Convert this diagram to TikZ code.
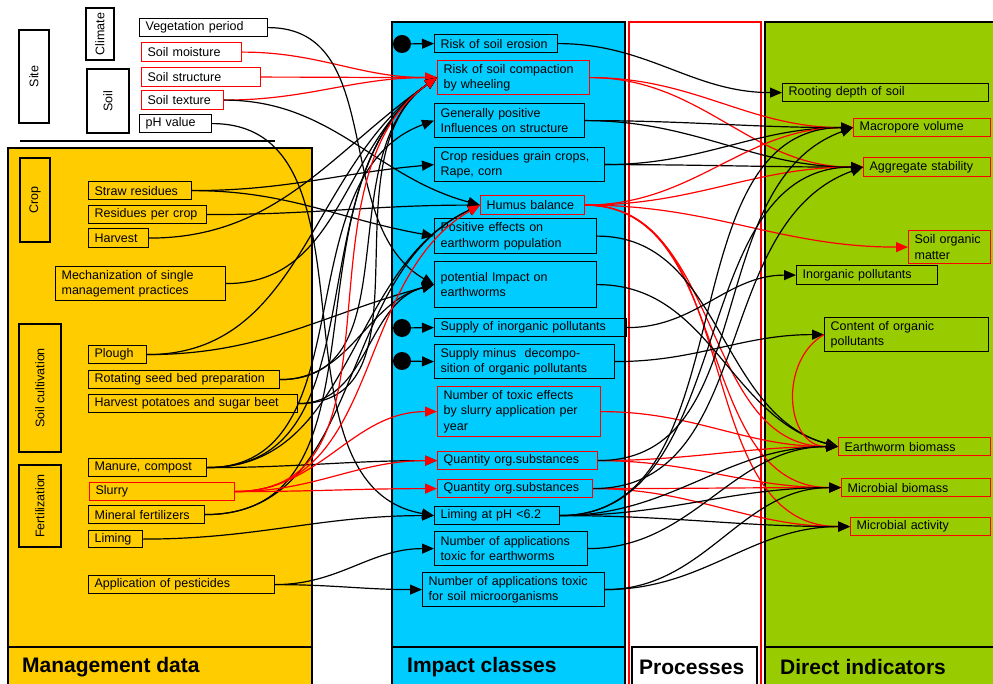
\documentclass[tikz,border=0pt]{standalone}
\usepackage{fontspec}
\setmainfont{Liberation Sans}
\usetikzlibrary{arrows.meta}
\definecolor{mgmtyellow}{RGB}{255,204,0}
\definecolor{impactblue}{RGB}{0,204,255}
\definecolor{indgreen}{RGB}{153,204,0}
\newcommand{\boxfont}{\fontsize{12.5}{15.5}\selectfont}
\newcommand{\titlefont}{\fontsize{21}{24}\selectfont\bfseries}

\begin{document}
\begin{tikzpicture}[x=1pt, y=1pt,
    box/.style={draw, line width=1.2pt, anchor=north west, align=left,
        inner xsep=6pt, inner ysep=0pt, font=\boxfont},
    redbox/.style={box, draw=red},
    catbox/.style={draw, line width=1.2pt, rotate=90, inner sep=0pt, font=\boxfont},
    blackdot/.style={circle, fill=black, inner sep=0pt, minimum size=18pt},
    panel/.style={draw, line width=1.2pt},
    paneltitle/.style={anchor=west, inner sep=0pt, font=\titlefont},
    link/.style={-{Triangle[length=12pt,width=10pt]}, line width=1.2pt},
    redlink/.style={link, draw=red}
    ]
    \useasboundingbox (0,0) rectangle (993,-684);

    % Panels
    \draw[panel, fill=mgmtyellow] (8,-148) rectangle (312,-700);
    \draw[panel] (8,-647) -- (312,-647);
    \draw[panel, fill=impactblue] (392,-22) rectangle (625,-700);
    \draw[panel] (392,-647) -- (625,-647);
    \draw[draw=red, line width=1.4pt] (629,-22) rectangle (761,-700);
    \draw[panel] (632,-647) rectangle (757,-700);
    \draw[panel, fill=indgreen] (765,-22) rectangle (1000,-700);
    \draw[panel] (765,-647) -- (1000,-647);
    \draw[panel] (20,-141) -- (275,-141);

    \node[paneltitle] (mgmttitle) at (22,-667) {Management data};
    \node[paneltitle] (impacttitle) at (407,-667) {Impact classes};
    \node[paneltitle] (proctitle) at (639,-667) {Processes};
    \node[paneltitle] (indtitle) at (780,-667) {Direct indicators};

    % Site data
    \node[catbox, minimum width=93pt, minimum height=30pt] (site) at (34,-76.5) {Site};
    \node[catbox, minimum width=52pt, minimum height=28pt] (climate) at (100,-34) {Climate};
    \node[catbox, minimum width=64pt, minimum height=42pt] (soil) at (108,-101) {Soil};
    \node[box, text width=116pt, minimum height=18pt] (vegper) at (139,-18) {Vegetation period};
    \node[redbox, text width=88pt, minimum height=19pt] (soilmoist) at (141,-42) {Soil moisture};
    \node[redbox, text width=107pt, minimum height=19pt] (soilstruct) at (141,-67) {Soil structure};
    \node[redbox, text width=70pt, minimum height=19pt] (soiltext) at (141,-90) {Soil texture};
    \node[box, text width=60pt, minimum height=18pt] (phval) at (139,-114) {pH value};

    % Management data
    \node[catbox, minimum width=84pt, minimum height=30pt] (crop) at (35,-200) {Crop};
    \node[box, text width=91pt, minimum height=18pt] (straw) at (88,-181) {Straw residues};
    \node[box, text width=106pt, minimum height=18pt] (resid) at (88,-205) {Residues per crop};
    \node[box, text width=48pt, minimum height=19pt] (harvest) at (88,-228) {Harvest};
    \node[box, text width=158pt, minimum height=34pt] (mech) at (55,-266) {Mechanization of single\\management practices};
    \node[catbox, minimum width=128pt, minimum height=42pt] (soilcult) at (40,-388) {Soil cultivation};
    \node[box, text width=46pt, minimum height=18pt] (plough) at (88,-345) {Plough};
    \node[box, text width=179pt, minimum height=18pt] (rotating) at (88,-370) {Rotating seed bed preparation};
    \node[box, text width=197pt, minimum height=18pt] (potatoes) at (88,-394) {Harvest potatoes and sugar beet};
    \node[catbox, minimum width=82pt, minimum height=42pt] (fert) at (40,-506) {Fertilization};
    \node[box, text width=106pt, minimum height=18pt] (manure) at (88,-458) {Manure, compost};
    \node[redbox, text width=133pt, minimum height=18pt] (slurry) at (89,-482) {Slurry};
    \node[box, text width=104pt, minimum height=18pt] (mineral) at (88,-505) {Mineral fertilizers};
    \node[box, text width=42pt, minimum height=17pt] (liming) at (88,-530) {Liming};
    \node[box, text width=174pt, minimum height=18pt] (pestic) at (88,-575) {Application of pesticides};

    % Impact classes
    \node[blackdot] (dot1) at (402,-44) {};
    \node[blackdot] (dot2) at (402,-328) {};
    \node[blackdot] (dot3) at (402,-361) {};
    \node[box, text width=111pt, minimum height=18pt] (erosion) at (434,-34) {Risk of soil erosion};
    \node[redbox, text width=140pt, minimum height=34pt] (compact) at (437,-60) {Risk of soil compaction\\by wheeling};
    \node[box, text width=138pt, minimum height=34pt] (genpos) at (434,-103) {Generally positive\\Influences on structure};
    \node[box, text width=158pt, minimum height=34pt] (cropres) at (434,-147) {Crop residues grain crops,\\Rape, corn};
    \node[redbox, text width=92pt, minimum height=19pt] (humus) at (480,-195) {Humus balance};
    \node[box, text width=150pt, minimum height=35pt] (posearth) at (434,-218) {Positive effects on\\earthworm population};
    \node[box, text width=150pt, minimum height=46pt] (potimp) at (434,-261) {potential Impact on\\earthworms};
    \node[box, text width=180pt, minimum height=18pt] (supinorg) at (434,-318) {Supply of inorganic pollutants};
    \node[box, text width=168pt, minimum height=34pt] (supdecomp) at (434,-344) {Supply minus\ \ decompo-\\sition of organic pollutants};
    \node[redbox, text width=151pt, minimum height=50pt] (toxslurry) at (437,-386) {Number of toxic effects\\by slurry application per\\year};
    \node[redbox, text width=148pt, minimum height=18pt] (quant1) at (437,-451) {Quantity org.substances};
    \node[redbox, text width=143pt, minimum height=18pt] (quant2) at (437,-479) {Quantity org.substances};
    \node[box, text width=113pt, minimum height=18pt] (limingph) at (434,-506) {Liming at pH <6.2};
    \node[box, text width=141pt, minimum height=34pt] (apptoxew) at (434,-531) {Number of applications\\toxic for earthworms};
    \node[box, text width=170pt, minimum height=34pt] (apptoxmo) at (422,-572) {Number of applications toxic\\for soil microorganisms};

    % Direct indicators
    \node[box, text width=194pt, minimum height=18pt] (rooting) at (782,-83) {Rooting depth of soil};
    \node[redbox, text width=125pt, minimum height=18pt] (macro) at (853,-118) {Macropore volume};
    \node[redbox, text width=115pt, minimum height=19pt] (aggreg) at (863,-157) {Aggregate stability};
    \node[redbox, text width=70pt, minimum height=33pt] (som) at (908,-230) {Soil organic\\matter};
    \node[box, text width=129pt, minimum height=19pt] (inorgpoll) at (796,-265) {Inorganic pollutants};
    \node[box, text width=152pt, minimum height=34pt] (orgpoll) at (824,-317) {Content of organic\\pollutants};
    \node[redbox, text width=140pt, minimum height=18pt] (ewbio) at (838,-437) {Earthworm biomass};
    \node[redbox, text width=137pt, minimum height=18pt] (mbio) at (841,-478) {Microbial biomass};
    \node[redbox, text width=128pt, minimum height=18pt] (mact) at (850,-517) {Microbial activity};

    % Site data to impact classes
    \foreach \src in {soilmoist,soilstruct,soiltext}
        \draw[redlink] (\src.east) to[out=0,in=180] (compact.west);
    \draw[link] (soiltext.east) to[out=0,in=165] (humus.west);
    \draw[link] (vegper.east) to[out=0,in=150] (potimp.west);
    \draw[link] (phval.east) to[out=0,in=170] (limingph.west);

    % Management data to impact classes
    \draw[link] (straw.east) to[out=0,in=185] (cropres.west);
    \draw[link] (straw.east) to[out=0,in=170] (posearth.west);
    \draw[link] (resid.east) to[out=0,in=180] (humus.west);
    \foreach \src in {harvest,mech,plough,rotating,potatoes,manure,mineral}
        \draw[link] (\src.east) to[out=0,in=215] (compact.west);
    \foreach \src in {plough,rotating,potatoes}
        \draw[link] (\src.east) to[out=0,in=195] (potimp.west);
    \draw[link] (manure.east) to[out=0,in=200] (genpos.west);
    \draw[link] (manure.east) to[out=0,in=205] (humus.west);
    \draw[link] (mineral.east) to[out=0,in=205] (humus.west);
    \draw[link] (manure.east) to[out=0,in=180] (quant1.west);
    \draw[redlink] (slurry.east) to[out=0,in=215] (compact.west);
    \draw[redlink] (slurry.east) to[out=0,in=210] (humus.west);
    \foreach \dst in {toxslurry,quant1,quant2}
        \draw[redlink] (slurry.east) to[out=0,in=180] (\dst.west);
    \draw[link] (liming.east) to[out=0,in=180] (limingph.west);
    \draw[link] (pestic.east) to[out=0,in=180] (apptoxew.west);
    \draw[link] (pestic.east) to[out=0,in=180] (apptoxmo.west);

    % External inputs
    \draw[link] (dot1) -- (erosion.west);
    \draw[link] (dot2) -- (supinorg.west);
    \draw[link] (dot3) -- (supdecomp.west);

    % Impact classes to direct indicators
    \draw[link] (erosion.east) to[out=0,in=180] (rooting.west);
    \draw[redlink] (compact.east) to[out=0,in=180] (macro.west);
    \draw[redlink] (compact.east) to[out=0,in=180] (aggreg.west);
    \foreach \src in {genpos,cropres}
        \foreach \dst in {macro,aggreg}
            \draw[link] (\src.east) to[out=0,in=180] (\dst.west);
    \foreach \dst in {macro,aggreg,som,ewbio,mbio,mact}
        \draw[redlink] (humus.east) to[out=0,in=180] (\dst.west);
    \draw[link] (posearth.east) to[out=0,in=165] (ewbio.west);
    \draw[link] (potimp.east) to[out=0,in=165] (ewbio.west);
    \draw[link] (supinorg.east) to[out=0,in=180] (inorgpoll.west);
    \draw[link] (supdecomp.east) to[out=0,in=180] (orgpoll.west);
    \draw[redlink] (orgpoll.west) to[out=210,in=180, looseness=1.2] (ewbio.west);
    \draw[redlink] (toxslurry.east) to[out=0,in=180] (ewbio.west);
    \draw[redlink] (quant1.east) to[out=0,in=180] (ewbio.west);
    \draw[redlink] (quant1.east) to[out=0,in=180] (mbio.west);
    \draw[redlink] (quant2.east) to[out=0,in=180] (mbio.west);
    \draw[redlink] (quant2.east) to[out=0,in=180] (mact.west);
    \draw[link] (quant1.east) to[out=0,in=200] (macro.west);
    \draw[link] (quant2.east) to[out=0,in=200] (aggreg.west);
    \foreach \dst in {macro,aggreg,ewbio,mbio,mact}
        \draw[link] (limingph.east) to[out=0,in=180] (\dst.west);
    \draw[link] (apptoxew.east) to[out=0,in=180] (ewbio.west);
    \draw[link] (apptoxmo.east) to[out=0,in=180] (mbio.west);
    \draw[link] (apptoxmo.east) to[out=0,in=180] (mact.west);
\end{tikzpicture}
\end{document}
